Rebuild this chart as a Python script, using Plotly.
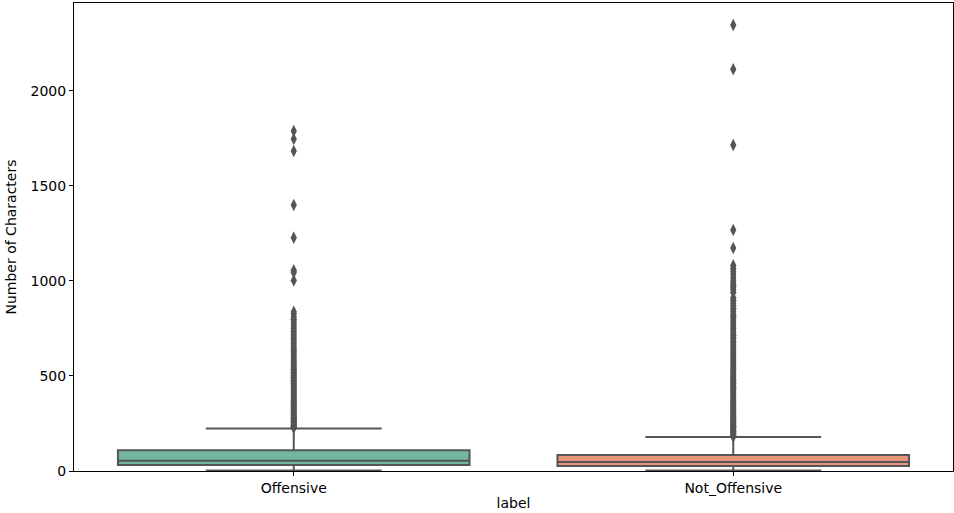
import plotly.graph_objects as go

categories = ["Offensive", "Not_Offensive"]
q1_vals = [32, 26]
median_vals = [54, 47]
q3_vals = [109, 84]
lower_whisker = [3, 2]
upper_whisker = [224, 179]
box_colors = ["#72b6a1", "#e8957a"]

offensive_outliers = [1789, 1747, 1684, 1400, 1228, 1056, 1045, 1003, 838, 826, 812, 798, 786,
                      772, 760, 748, 735, 722, 710, 698, 686, 674, 662, 650, 640, 630, 620, 610,
                      600, 590, 580, 571, 562, 553, 544, 535, 526, 518, 510, 502, 494, 486, 478,
                      470, 462, 455, 448, 441, 434, 427, 420, 413, 406, 399, 392, 385, 378, 371,
                      364, 357, 350, 343, 337, 331, 325, 319, 313, 307, 301, 295, 289, 283, 277,
                      271, 265, 260, 255, 250, 245, 240, 235, 231, 228]
not_offensive_outliers = [2347, 2114, 1716, 1268, 1174, 1082, 1066, 1050, 1034, 1018, 1004, 990,
                          978, 966, 955, 940, 912, 898, 884, 870, 856, 842, 828, 815, 802, 789,
                          776, 763, 750, 738, 726, 714, 702, 690, 678, 666, 654, 643, 632, 621,
                          610, 600, 590, 580, 570, 560, 550, 540, 531, 522, 513, 504, 495, 486,
                          477, 468, 460, 452, 444, 436, 428, 420, 412, 404, 396, 388, 380, 372,
                          365, 358, 351, 344, 337, 330, 323, 316, 309, 302, 296, 290, 284, 278,
                          272, 266, 260, 254, 248, 242, 236, 231, 226, 221, 216, 211, 206, 201,
                          196, 191, 187, 183, 181]
outliers = [offensive_outliers, not_offensive_outliers]

line_col = "#555555"
fig = go.Figure()
for i, cat in enumerate(categories):
    fig.add_trace(go.Box(
        x=[cat], q1=[q1_vals[i]], median=[median_vals[i]], q3=[q3_vals[i]],
        lowerfence=[lower_whisker[i]], upperfence=[upper_whisker[i]],
        fillcolor=box_colors[i], line=dict(color=line_col, width=2),
        width=0.8, whiskerwidth=0.5, boxpoints=False, showlegend=False,
        hoverinfo="skip",
    ))
    fig.add_trace(go.Scatter(
        x=[cat] * len(outliers[i]), y=outliers[i], mode="markers",
        marker=dict(symbol="diamond-tall", size=9, color=line_col,
                    line=dict(width=0)),
        showlegend=False,
    ))

axis_common = dict(showline=True, linecolor="black", linewidth=1, mirror=True,
                   ticks="outside", ticklen=4, tickcolor="black", showgrid=False,
                   zeroline=False, tickfont=dict(family="DejaVu Sans", size=14, color="black"))
fig.update_layout(
    width=954, height=513, margin=dict(l=74, r=1, t=3, b=42),
    plot_bgcolor="white", paper_bgcolor="white", boxmode="overlay",
    font=dict(family="DejaVu Sans", size=14, color="black"),
    xaxis=dict(type="category", range=[-0.5, 1.5],
               title=dict(text="label", standoff=3, font=dict(size=14)), **axis_common),
    yaxis=dict(range=[0, 2463], tickvals=[0, 500, 1000, 1500, 2000],
               title=dict(text="Number of Characters", standoff=10, font=dict(size=14)),
               **axis_common),
)
fig.write_html("out.html", config={"displayModeBar": False},
               post_script="document.body.style.margin='0';document.body.style.padding='0';")
